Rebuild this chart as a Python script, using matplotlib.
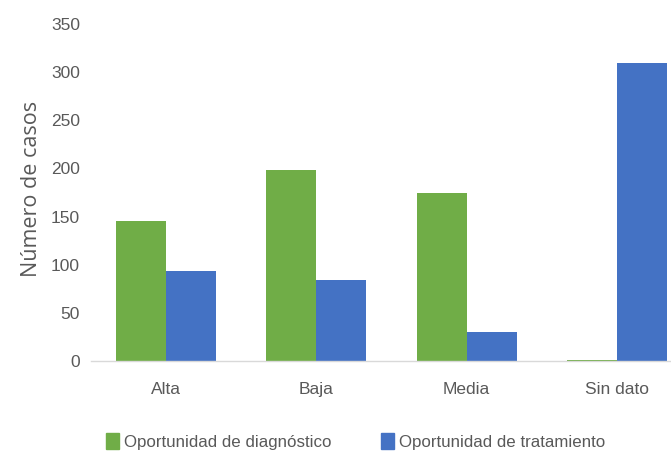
import matplotlib
matplotlib.use("Agg")
import matplotlib.pyplot as plt
from matplotlib.patches import Patch
import numpy as np

categories = ["Alta", "Baja", "Media", "Sin dato"]
diagnostico = [145, 198, 175, 1]
tratamiento = [94, 84, 30, 310]
series_names = ["Oportunidad de diagnóstico", "Oportunidad de tratamiento"]
y_ticks = [0, 50, 100, 150, 200, 250, 300, 350]

GREEN = "#70AD47"
BLUE = "#4472C4"
TEXT = "#595959"

plt.rcParams["font.family"] = ["Liberation Sans", "DejaVu Sans"]

fig = plt.figure(figsize=(6.71, 4.53), dpi=100)
ax = fig.add_axes([0.1356, 0.203, 0.8644, 0.744])

x = np.arange(len(categories))
w = 1 / 3
ax.bar(x - w / 2, diagnostico, width=w, color=GREEN)
ax.bar(x + w / 2, tratamiento, width=w, color=BLUE)

ax.set_xlim(-0.5, 3.36)
ax.set_ylim(0, 350)
ax.set_yticks(y_ticks)
ax.set_xticks(x)
ax.set_xticklabels(categories)

for s in ["top", "right", "left"]:
    ax.spines[s].set_visible(False)
ax.spines["bottom"].set_color("#D9D9D9")
ax.spines["bottom"].set_linewidth(1.0)
ax.tick_params(axis="both", length=0, colors=TEXT, labelsize=12.5)
ax.tick_params(axis="y", pad=8)
ax.tick_params(axis="x", pad=15)

ax.set_ylabel("Número de casos", color=TEXT, fontsize=15.5,
              family=["Open Sans", "DejaVu Sans"])
ax.yaxis.set_label_coords(-0.085, 0.51)

handles = [Patch(color=GREEN), Patch(color=BLUE)]
fig.legend(handles, series_names, loc="center", bbox_to_anchor=(0.53, 0.025),
           ncol=2, frameon=False, fontsize=12.2, labelcolor=TEXT,
           handlelength=0.8, handleheight=1.0, handletextpad=0.3, columnspacing=2.9)

fig.savefig("out.png", dpi=100)
